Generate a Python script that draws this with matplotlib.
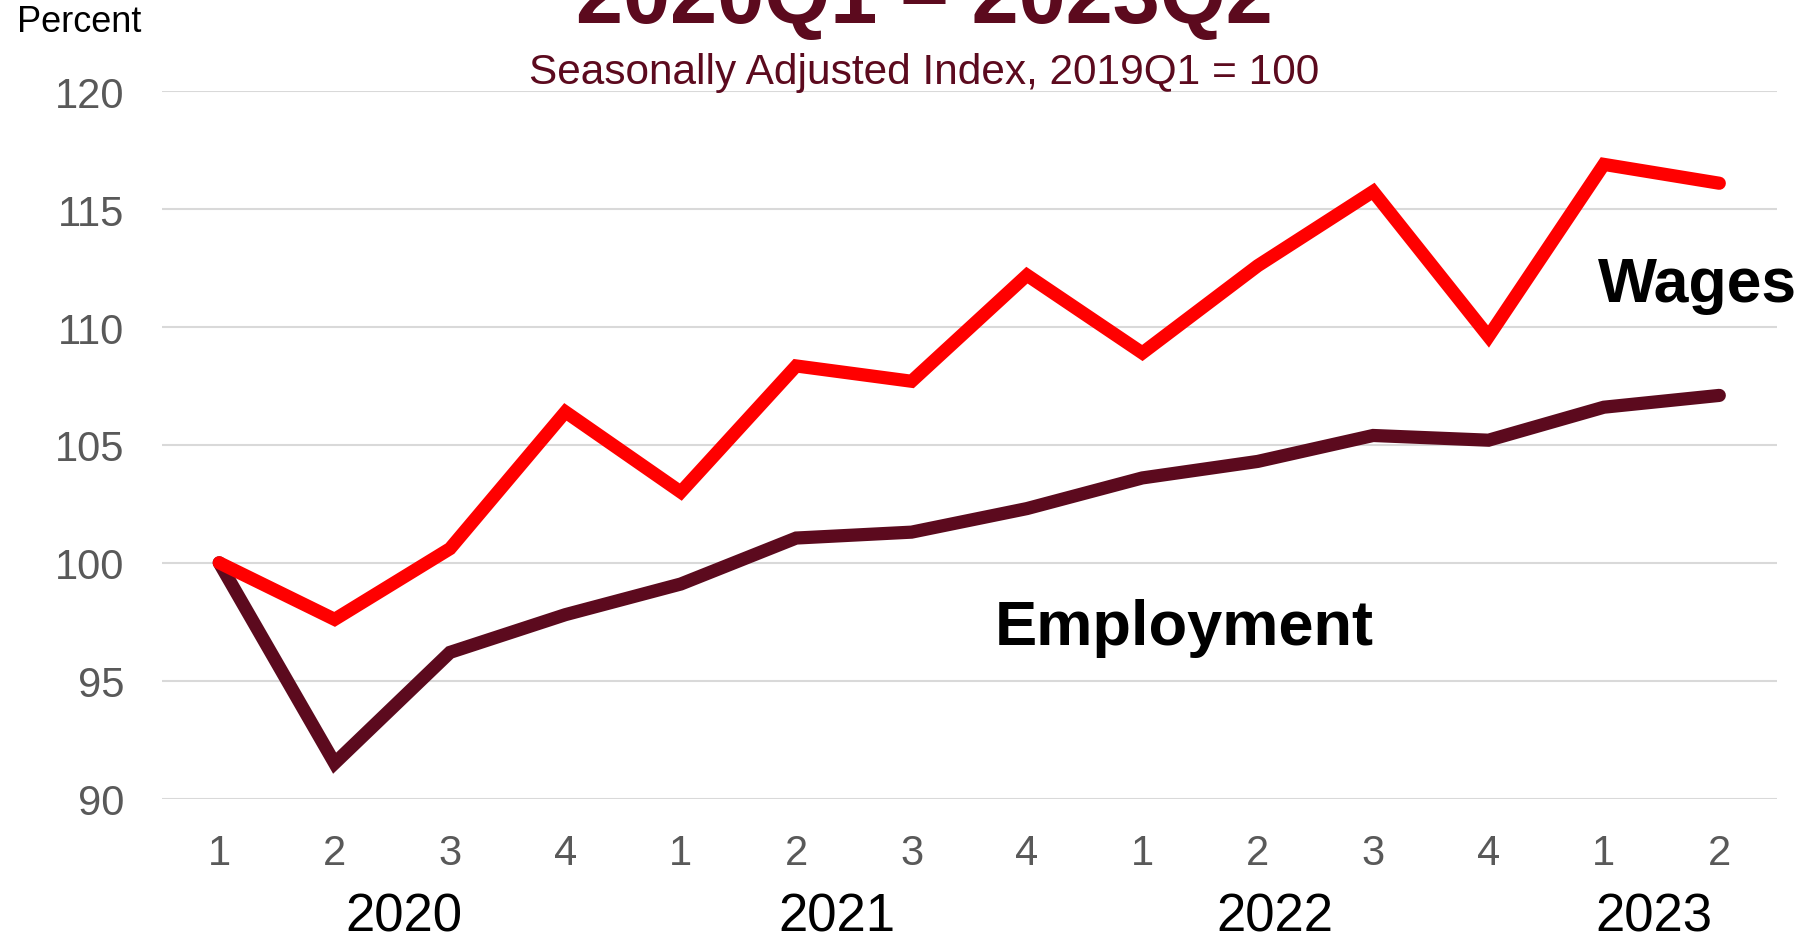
import matplotlib.pyplot as plt

plt.rcParams['font.family'] = ['Liberation Sans', 'DejaVu Sans']

# Quarterly index values, 2019Q1 = 100
quarters = ['1', '2', '3', '4', '1', '2', '3', '4', '1', '2', '3', '4', '1', '2']
years = ['2020', '2021', '2022', '2023']
year_pos = [1.6, 5.35, 9.15, 12.43]
wages = [100.0, 97.6, 100.6, 106.4, 103.0, 108.35, 107.7, 112.2,
         108.9, 112.6, 115.75, 109.6, 116.9, 116.1]
employment = [100.0, 91.5, 96.2, 97.8, 99.1, 101.05, 101.3, 102.3,
              103.6, 104.3, 105.4, 105.2, 106.6, 107.1]

maroon = '#5C0A1E'
red = '#FF0000'

fig = plt.figure(figsize=(18.09, 9.37), dpi=100)
ax = fig.add_axes([0.0893, 0.1467, 0.893, 0.7548])

x = range(len(quarters))
ax.plot(x, employment, color=maroon, lw=9.5, solid_capstyle='round', solid_joinstyle='miter', zorder=3)
ax.plot(x, wages, color=red, lw=9.5, solid_capstyle='round', solid_joinstyle='miter', zorder=4)

ax.set_xlim(-0.5, 13.5)
ax.set_ylim(90, 120)
ax.set_yticks(range(90, 121, 5))
ax.set_xticks(list(x))
ax.set_xticklabels(quarters)
ax.grid(axis='y', color='#D9D9D9', lw=1.5, zorder=0)
ax.set_axisbelow(True)
for s in ax.spines.values():
    s.set_visible(False)
ax.tick_params(axis='both', length=0, labelsize=30, labelcolor='#595959')
ax.tick_params(axis='y', pad=27)
ax.tick_params(axis='x', pad=25)

# year labels sit under the quarter ticks, baseline near the bottom edge
for yr, p in zip(years, year_pos):
    ax.annotate(yr, xy=(p, 0), xycoords=('data', 'axes fraction'),
                xytext=(0, -95), textcoords='offset points',
                ha='center', va='baseline', fontsize=38, color='black')

ax.text(11.95, 111.8, 'Wages', fontsize=45, fontweight='bold', color='black', va='center', ha='left')
ax.text(6.72, 97.24, 'Employment', fontsize=45.5, fontweight='bold', color='black', va='center', ha='left')

fig.text(0.511, 1 - 23 / 937, '2020Q1 \u2013 2023Q2', fontsize=61, fontweight='bold',
         color=maroon, ha='center', va='baseline')
fig.text(0.511, 1 - 84 / 937, 'Seasonally Adjusted Index, 2019Q1 = 100', fontsize=30.5,
         color=maroon, ha='center', va='baseline')
fig.text(17 / 1809, 1 - 32 / 937, 'Percent', fontsize=26, color='black', ha='left', va='baseline')

fig.savefig('out.png', dpi=100)
